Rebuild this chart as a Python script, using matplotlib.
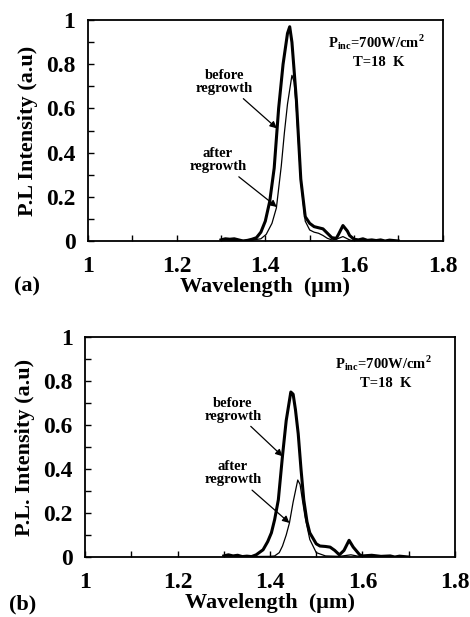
import matplotlib
matplotlib.use("Agg")
import matplotlib.pyplot as plt
from matplotlib.ticker import MultipleLocator, FuncFormatter

plt.rcParams['font.family'] = ['Liberation Serif', 'DejaVu Serif']
plt.rcParams['font.weight'] = 'bold'
plt.rcParams['mathtext.fontset'] = 'custom'
plt.rcParams['mathtext.rm'] = 'Liberation Serif:bold'
plt.rcParams['mathtext.bf'] = 'Liberation Serif:bold'

# panel (a)
wl_a_before = [1.30, 1.31, 1.32, 1.33, 1.34, 1.35, 1.36, 1.37, 1.38, 1.39, 1.40, 1.41,
               1.42, 1.43, 1.44, 1.45, 1.455, 1.46, 1.47, 1.48, 1.49, 1.50, 1.51, 1.52,
               1.53, 1.54, 1.55, 1.56, 1.565, 1.575, 1.585, 1.59, 1.60, 1.61, 1.62, 1.63,
               1.64, 1.65, 1.66, 1.67, 1.68, 1.69, 1.70]
pl_a_before = [0.005, 0.01, 0.008, 0.01, 0.005, 0.0, 0.003, 0.008, 0.015, 0.04, 0.09, 0.18,
               0.33, 0.60, 0.80, 0.94, 0.97, 0.90, 0.64, 0.28, 0.11, 0.08, 0.065, 0.06,
               0.055, 0.035, 0.015, 0.012, 0.03, 0.07, 0.045, 0.025, 0.008, 0.005, 0.01, 0.003,
               0.005, 0.002, 0.005, 0.0, 0.004, 0.002, 0.0]
wl_a_after = [1.30, 1.34, 1.37, 1.39, 1.402, 1.415, 1.425, 1.436, 1.443, 1.45, 1.46, 1.465,
              1.47, 1.48, 1.49, 1.50, 1.51, 1.52, 1.53, 1.54, 1.55, 1.56, 1.575, 1.59,
              1.60, 1.65, 1.70]
pl_a_after = [0.0, 0.002, 0.004, 0.01, 0.03, 0.08, 0.15, 0.34, 0.49, 0.62, 0.75, 0.72,
              0.60, 0.27, 0.09, 0.05, 0.04, 0.035, 0.025, 0.012, 0.005, 0.008, 0.02, 0.005,
              0.0, 0.0, 0.0]

# panel (b)
wl_b_before = [1.30, 1.31, 1.32, 1.33, 1.34, 1.35, 1.36, 1.37, 1.385, 1.395, 1.403, 1.41,
               1.418, 1.427, 1.435, 1.445, 1.45, 1.455, 1.461, 1.467, 1.473, 1.48, 1.486,
               1.50, 1.508, 1.52, 1.53, 1.54, 1.55, 1.56, 1.571, 1.58, 1.594, 1.60, 1.62,
               1.64, 1.66, 1.67, 1.68, 1.70]
pl_b_before = [0.005, 0.01, 0.005, 0.008, 0.002, 0.004, 0.002, 0.01, 0.033, 0.07, 0.11, 0.17,
               0.26, 0.46, 0.62, 0.75, 0.74, 0.67, 0.56, 0.40, 0.26, 0.16, 0.11,
               0.06, 0.05, 0.048, 0.045, 0.03, 0.01, 0.03, 0.076, 0.045, 0.01, 0.005, 0.008,
               0.003, 0.005, 0.0, 0.004, 0.0]
wl_b_after = [1.30, 1.35, 1.40, 1.41, 1.42, 1.427, 1.435, 1.442, 1.45, 1.46, 1.465, 1.47,
              1.476, 1.486, 1.50, 1.52, 1.55, 1.575, 1.60, 1.65, 1.70]
pl_b_after = [0.0, 0.002, 0.003, 0.005, 0.02, 0.05, 0.10, 0.155, 0.25, 0.35, 0.33, 0.26,
              0.18, 0.08, 0.02, 0.005, 0.003, 0.01, 0.0, 0.0, 0.0]

fig = plt.figure(figsize=(4.70, 6.17), dpi=100)

fmt = FuncFormatter(lambda v, p: f"{v:g}")


def style(ax):
    ax.set_xlim(1, 1.8)
    ax.set_ylim(0, 1)
    ax.xaxis.set_major_locator(MultipleLocator(0.2))
    ax.xaxis.set_minor_locator(MultipleLocator(0.1))
    ax.yaxis.set_major_locator(MultipleLocator(0.2))
    ax.yaxis.set_minor_locator(MultipleLocator(0.1))
    ax.xaxis.set_major_formatter(fmt)
    ax.yaxis.set_major_formatter(fmt)
    ax.tick_params(which='both', direction='in', length=4, width=1, top=False, right=False)
    ax.tick_params(axis='x', pad=11, labelsize=17)
    ax.tick_params(axis='y', pad=9, labelsize=17)
    for s in ax.spines.values():
        s.set_linewidth(1.3)
    ax.set_xlabel('Wavelength  (\u03bcm)', fontsize=16, fontweight='bold', labelpad=0)


arrow = dict(arrowstyle='-|>', lw=0.9, color='black', mutation_scale=10, shrinkA=1, shrinkB=0)
cond = r'$\mathrm{P_{inc}}$=700W/cm$^{2}$'

# (a)
ax1 = fig.add_axes([0.187, 0.6094, 0.755, 0.358])
ax1.plot(wl_a_after, pl_a_after, color='black', lw=0.9)
ax1.plot(wl_a_before, pl_a_before, color='black', lw=2.2)
style(ax1)
ax1.set_ylabel('P.L Intensity (a.u)', fontsize=16, fontweight='bold', labelpad=6)
ax1.annotate('before\nregrowth', xy=(1.426, 0.51), xytext=(1.308, 0.72), fontsize=10.5,
             ha='center', va='center', linespacing=1.0, arrowprops=arrow)
ax1.annotate('after\nregrowth', xy=(1.426, 0.154), xytext=(1.293, 0.366), fontsize=10.5,
             ha='center', va='center', linespacing=1.0, arrowprops=arrow)
ax1.text(1.65, 0.90, cond, fontsize=10.5, ha='center', va='center')
ax1.text(1.655, 0.81, 'T=18  K', fontsize=10.5, ha='center', va='center')
fig.text(0.03, 0.535, '(a)', fontsize=16, fontweight='bold', va='center')

# (b)
ax2 = fig.add_axes([0.181, 0.0972, 0.787, 0.3566])
ax2.plot(wl_b_after, pl_b_after, color='black', lw=0.9)
ax2.plot(wl_b_before, pl_b_before, color='black', lw=2.2)
style(ax2)
ax2.set_ylabel('P.L. Intensity (a.u)', fontsize=16, fontweight='bold', labelpad=6)
ax2.annotate('before\nregrowth', xy=(1.427, 0.458), xytext=(1.32, 0.67), fontsize=10.5,
             ha='center', va='center', linespacing=1.0, arrowprops=arrow)
ax2.annotate('after\nregrowth', xy=(1.442, 0.155), xytext=(1.32, 0.38), fontsize=10.5,
             ha='center', va='center', linespacing=1.0, arrowprops=arrow)
ax2.text(1.645, 0.88, cond, fontsize=10.5, ha='center', va='center')
ax2.text(1.65, 0.79, 'T=18  K', fontsize=10.5, ha='center', va='center')
fig.text(0.02, 0.02, '(b)', fontsize=16, fontweight='bold', va='center')

fig.savefig('out.png', dpi=100)
